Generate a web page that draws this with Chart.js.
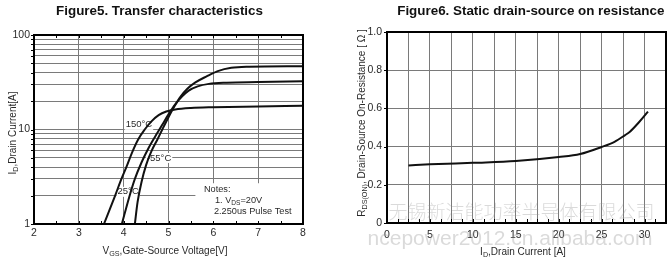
<!DOCTYPE html>
<html><head><meta charset="utf-8">
<script src="https://cdn.jsdelivr.net/npm/chart.js@4.4.0/dist/chart.umd.min.js"></script>
<style>
html,body{margin:0;padding:0;background:#fff;width:672px;height:264px;overflow:hidden}
canvas{position:absolute;top:0}
#c1{left:0}
#c2{left:330px}
</style></head><body>
<canvas id="c1" width="330" height="264"></canvas>
<canvas id="c2" width="342" height="264"></canvas>
<script>
// ---------- Figure 5 data ----------
const fig5Title = 'Figure5. Transfer characteristics';
const vgsM55 = [4.25, 4.31, 4.40, 4.50, 4.62, 4.75, 4.87, 5.0, 5.13, 5.27, 5.42, 5.6, 5.85, 6.1, 6.4, 6.8, 8.0];
const idM55  = [1, 1.7, 2.8, 4.2, 5.9, 7.8, 10.2, 13.5, 17.5, 22.3, 27, 31.5, 36.5, 41.5, 45, 46.2, 46.8];
const vgs25  = [3.96, 4.12, 4.25, 4.40, 4.55, 4.70, 4.85, 5.0, 5.15, 5.3, 5.45, 5.65, 5.9, 6.3, 7.0, 8.0];
const id25   = [1, 1.9, 3.0, 4.5, 6.3, 8.4, 11.0, 14.5, 18.5, 22.3, 25.8, 28.6, 30.4, 31.3, 31.8, 32.4];
const vgs150 = [3.56, 3.81, 3.95, 4.06, 4.18, 4.32, 4.47, 4.62, 4.78, 4.95, 5.15, 5.5, 6.0, 7.0, 8.0];
const id150  = [1, 2, 3, 4, 5.6, 7.8, 10, 12.2, 14.2, 15.5, 16.3, 16.9, 17.2, 17.5, 17.8];
const vgsTicks = [2, 3, 4, 5, 6, 7, 8];
const idTicks = [1,2,3,4,5,6,7,8,9,10,20,30,40,50,60,70,80,90,100];
const idLabelled = [1, 10, 100];
const tempLabels = ['150°C', '-55°C', '25°C'];
const tempLabelAt = [[4.34, 11.2], [4.79, 5.0], [4.10, 2.19]];
const fig5XTitle = [['V',0],['GS',1],[',Gate-Source Voltage[V]',0]];
const fig5YTitle = [['I',0],['D',1],[',Drain Current[A]',0]];
const notesLines = [[['Notes:',0]], [['1. V',0],['DS',1],['=20V',0]], [['2.250us Pulse Test',0]]];

// ---------- Figure 6 data ----------
const fig6Title = 'Figure6. Static drain-source on resistance';
const idDrain = [2.5, 5, 10, 15, 20, 22.5, 25, 26.5, 27.7, 28.3, 29.3, 30.4];
const rdsOn   = [0.301, 0.307, 0.315, 0.324, 0.345, 0.361, 0.398, 0.425, 0.459, 0.478, 0.525, 0.583];
const idGridTicks = [0, 2.5, 5, 7.5, 10, 12.5, 15, 17.5, 20, 22.5, 25, 27.5, 30, 32.5];
const idLabelledTicks = [0, 5, 10, 15, 20, 25, 30];
const rdsTicks = [0, 0.2, 0.4, 0.6, 0.8, 1.0];
const fig6XTitle = [['I',0],['D',1],[',Drain Current [A]',0]];
const fig6YTitle = [['R',0],['DS(ON)',1],[', Drain-Source On-Resistance [ Ω ]',0]];
const watermarkCn = '无锡新洁能功率半导体有限公司';
const watermarkEn = 'ncepower2012.cn.alibaba.com';

const FONT = '"Liberation Sans", Arial, sans-serif';
const GRID = '#7a7a7a';
const TXT = '#2a2a2a';

function richWidth(ctx, parts, size) {
  let w = 0;
  parts.forEach(p => { ctx.font = (p[1] ? size * 0.72 : size) + 'px ' + FONT; w += ctx.measureText(p[0]).width; });
  return w;
}
function drawRich(ctx, parts, x, y, size, align, rot) {
  ctx.save();
  ctx.translate(x, y);
  if (rot) ctx.rotate(rot);
  ctx.fillStyle = TXT;
  ctx.textBaseline = 'alphabetic';
  ctx.textAlign = 'left';
  const w = richWidth(ctx, parts, size);
  let cx = align === 'center' ? -w / 2 : 0;
  parts.forEach(p => {
    ctx.font = (p[1] ? size * 0.72 : size) + 'px ' + FONT;
    ctx.fillText(p[0], cx, size * 0.36 + (p[1] ? size * 0.2 : 0));
    cx += ctx.measureText(p[0]).width;
  });
  ctx.restore();
}
function toPts(xs, ys) { return xs.map((v, i) => ({x: v, y: ys[i]})); }
function lineDs(xs, ys) {
  return {data: toPts(xs, ys), borderColor: '#111', borderWidth: 2, pointRadius: 0,
          cubicInterpolationMode: 'monotone', fill: false};
}
function frame(ctx, a) {
  ctx.save(); ctx.strokeStyle = '#000'; ctx.lineWidth = 2;
  ctx.strokeRect(a.left, a.top, a.right - a.left, a.bottom - a.top); ctx.restore();
}

// ---------- Figure 5 chart ----------
const fig5Plugin = {
  id: 'fig5',
  beforeDatasetsDraw(chart) {
    const {ctx, chartArea: a, scales: {x, y}} = chart;
    ctx.save(); ctx.fillStyle = '#fff';
    const bx = x.getPixelForValue(5.6), by = y.getPixelForValue(2.7);
    ctx.fillRect(bx, by, a.right - bx, a.bottom - by);
    // temperature labels (below the curves)
    ctx.font = '9.5px ' + FONT; ctx.textAlign = 'center'; ctx.textBaseline = 'middle';
    tempLabels.forEach((t, i) => {
      const px = x.getPixelForValue(tempLabelAt[i][0]), py = y.getPixelForValue(tempLabelAt[i][1]);
      const w = ctx.measureText(t).width;
      ctx.fillStyle = '#fff'; ctx.fillRect(px - w / 2 - 1, py - 5, w + 2, 10);
      ctx.fillStyle = TXT; ctx.fillText(t, px, py);
    });
    ctx.restore();
  },
  afterDraw(chart) {
    const {ctx, chartArea: a, scales: {x, y}} = chart;
    // notes
    const nx = x.getPixelForValue(5.79);
    drawRich(ctx, notesLines[0], nx, y.getPixelForValue(2.39), 9.2, 'left');
    drawRich(ctx, notesLines[1], nx + 11, y.getPixelForValue(1.81), 9.2, 'left');
    drawRich(ctx, notesLines[2], nx + 10, y.getPixelForValue(1.39), 9.2, 'left');
    // minor ticks
    ctx.save(); ctx.strokeStyle = '#000'; ctx.lineWidth = 1; ctx.beginPath();
    for (let v = 2.5; v < 8; v += 0.5) {
      const px = Math.round(x.getPixelForValue(v)) + 0.5;
      ctx.moveTo(px, a.top); ctx.lineTo(px, a.top + 3);
      ctx.moveTo(px, a.bottom); ctx.lineTo(px, a.bottom - 3);
    }
    idTicks.forEach(v => { const py = Math.round(y.getPixelForValue(v)) + 0.5; ctx.moveTo(a.left - 3, py); ctx.lineTo(a.left, py); });
    ctx.stroke(); ctx.restore();
    frame(ctx, a);
    // titles
    ctx.save(); ctx.fillStyle = '#111'; ctx.font = 'bold 13.4px ' + FONT;
    ctx.textAlign = 'center'; ctx.textBaseline = 'middle';
    ctx.fillText(fig5Title, 159.5, 11); ctx.restore();
    drawRich(ctx, fig5XTitle, 165, 250.5, 10, 'center');
    drawRich(ctx, fig5YTitle, 12, 133, 10, 'center', -Math.PI / 2);
  }
};

new Chart(document.getElementById('c1'), {
  type: 'line',
  data: {datasets: [lineDs(vgsM55, idM55), lineDs(vgs25, id25), lineDs(vgs150, id150)]},
  options: {
    responsive: false, animation: false, devicePixelRatio: 1,
    layout: {padding: {top: 35, right: 27, left: 0, bottom: 0}},
    plugins: {legend: {display: false}, tooltip: {enabled: false}, title: {display: false}},
    scales: {
      x: {type: 'linear', min: 2, max: 8,
          afterBuildTicks: s => { s.ticks = vgsTicks.map(v => ({value: v})); },
          afterFit: s => { s.height = 40; },
          grid: {color: GRID, lineWidth: 1, drawTicks: false},
          border: {display: false},
          ticks: {color: TXT, font: {size: 10.5, family: FONT}, padding: 3, autoSkip: false, maxRotation: 0}},
      y: {type: 'logarithmic', min: 1, max: 100,
          afterBuildTicks: s => { s.ticks = idTicks.map(v => ({value: v})); },
          afterFit: s => { s.width = 34; },
          grid: {color: GRID, lineWidth: 1, drawTicks: false},
          border: {display: false},
          ticks: {color: TXT, font: {size: 10.5, family: FONT}, padding: 4, autoSkip: false,
                  callback: v => idLabelled.includes(v) ? String(v) : ''}}
    }
  },
  plugins: [fig5Plugin]
});

// ---------- Figure 6 chart ----------
const fig6Plugin = {
  id: 'fig6',
  afterDraw(chart) {
    const {ctx, chartArea: a, scales: {x, y}} = chart;
    ctx.save(); ctx.strokeStyle = '#000'; ctx.lineWidth = 1; ctx.beginPath();
    for (let v = 1.25; v < 32.5; v += 1.25) {
      const px = Math.round(x.getPixelForValue(v)) + 0.5;
      ctx.moveTo(px, a.bottom); ctx.lineTo(px, a.bottom - 4);
    }
    rdsTicks.forEach(v => { const py = Math.round(y.getPixelForValue(v)) + 0.5; ctx.moveTo(a.left - 3, py); ctx.lineTo(a.left, py); });
    ctx.stroke(); ctx.restore();
    frame(ctx, a);
    ctx.save(); ctx.fillStyle = '#111'; ctx.font = 'bold 13.4px ' + FONT;
    ctx.textAlign = 'center'; ctx.textBaseline = 'middle';
    ctx.fillText(fig6Title, 200.8, 11); ctx.restore();
    drawRich(ctx, fig6XTitle, 193, 251, 10, 'center');
    drawRich(ctx, fig6YTitle, 31, 123, 10, 'center', -Math.PI / 2);
    // watermark
    ctx.save();
    ctx.fillStyle = 'rgba(150,150,150,0.35)';
    ctx.textAlign = 'center'; ctx.textBaseline = 'middle';
    ctx.font = '300 19px "Noto Sans CJK SC", sans-serif';
    ctx.fillText(watermarkCn, 191.5, 211.5);
    ctx.textBaseline = 'alphabetic';
    ctx.font = '21px ' + FONT;
    ctx.fillText(watermarkEn, 180, 245);
    ctx.restore();
  }
};

new Chart(document.getElementById('c2'), {
  type: 'line',
  data: {datasets: [lineDs(idDrain, rdsOn)]},
  options: {
    responsive: false, animation: false, devicePixelRatio: 1,
    layout: {padding: {top: 32, right: 5, left: 0, bottom: 0}},
    plugins: {legend: {display: false}, tooltip: {enabled: false}, title: {display: false}},
    scales: {
      x: {type: 'linear', min: 0, max: 32.5,
          afterBuildTicks: s => { s.ticks = idGridTicks.map(v => ({value: v})); },
          afterFit: s => { s.height = 41; },
          grid: {color: GRID, lineWidth: 1, drawTicks: false},
          border: {display: false},
          ticks: {color: TXT, font: {size: 10.5, family: FONT}, padding: 6, autoSkip: false, maxRotation: 0,
                  callback: v => idLabelledTicks.includes(v) ? String(v) : ''}},
      y: {type: 'linear', min: 0, max: 1,
          afterBuildTicks: s => { s.ticks = rdsTicks.map(v => ({value: v})); },
          afterFit: s => { s.width = 57; },
          grid: {color: GRID, lineWidth: 1, drawTicks: false},
          border: {display: false},
          ticks: {color: TXT, font: {size: 10.5, family: FONT}, padding: 5, autoSkip: false,
                  callback: v => v === 0 ? '0' : v.toFixed(1)}}
    }
  },
  plugins: [fig6Plugin]
});
</script>
</body></html>
